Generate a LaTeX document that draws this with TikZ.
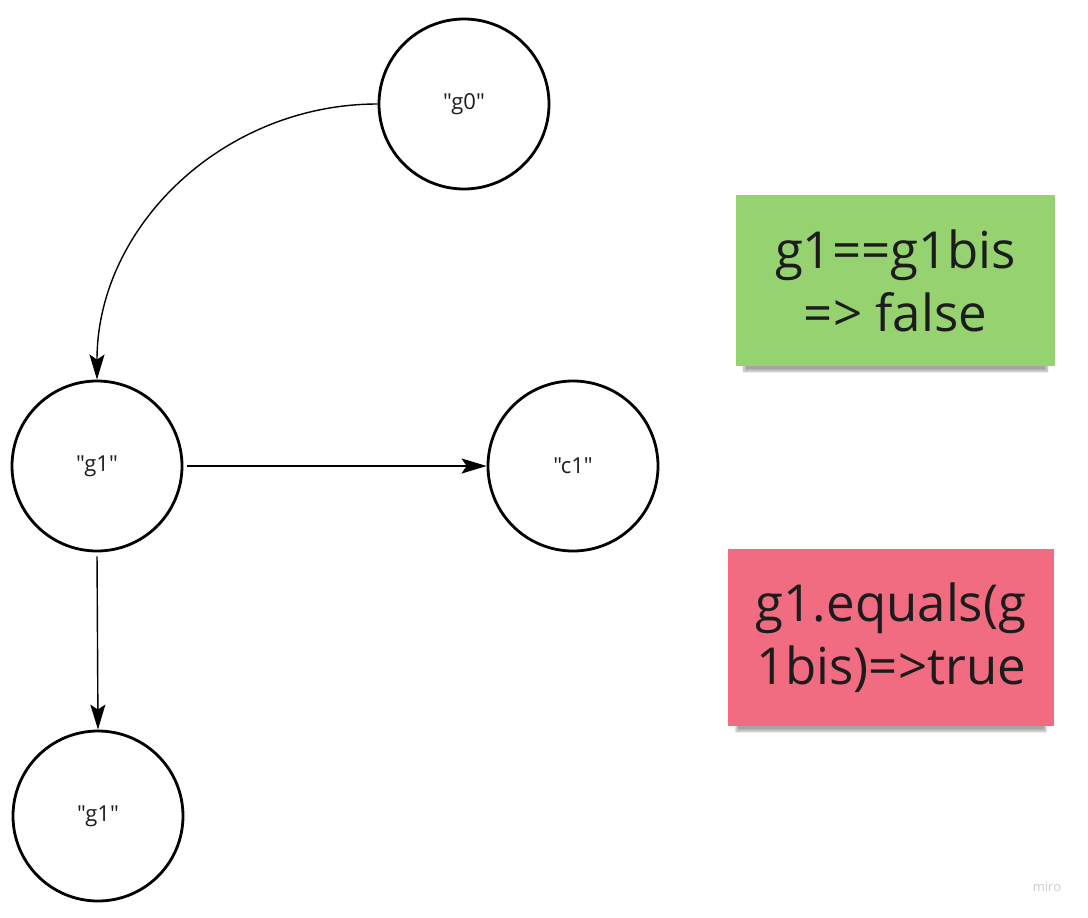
\documentclass[tikz,border=0pt]{standalone}
\usepackage{fontspec}
\setmainfont{Open Sans}[Ligatures=TeXOff]
\usetikzlibrary{arrows.meta,shadows.blur}

\definecolor{notegreen}{RGB}{150,210,112}
\definecolor{notered}{RGB}{241,108,128}
\definecolor{inktext}{RGB}{28,28,28}

\begin{document}
\begin{tikzpicture}[x=1pt, y=-1pt,
   obj/.style={draw, line width=2.8pt, circle, minimum size=170pt, inner sep=0pt,
      text=inktext, font=\fontsize{22}{26}\selectfont},
   ref/.style={-{Stealth[length=25pt, width=15pt, inset=5pt]}, line width=1.4pt},
   sticky/.style={align=center, inner sep=0pt, text=inktext,
      font=\fontsize{51}{63}\selectfont,
      blur shadow={shadow xshift=0pt, shadow yshift=-10pt, shadow blur steps=12,
         shadow opacity=35, shadow scale=0.95}}]
   \useasboundingbox (0,0) rectangle (1088,918);
   % the objects
   \node [obj] (g0) at (464,104) {"g0"};
   \node [obj] (g1) at (97,466) {"g1"};
   \node [obj] (c1) at (573,466) {"c1"};
   \node [obj] (g1b) at (98,816) {"g1"};
   % references
   \draw [ref] (g0.west) to[out=180, in=90] (g1.north);
   \draw [ref, shorten <=4pt] (g1.east) -- (c1.west);
   \draw [ref, shorten <=4pt] (g1.south) -- (g1b.north);
   % sticky notes
   \node [sticky, fill=notegreen, minimum width=319pt, minimum height=171pt]
      (falsenote) at (895.5,280.5) {g1==g1bis\\=> false};
   \node [sticky, fill=notered, minimum width=326pt, minimum height=177pt]
      (truenote) at (891,637.5) {g1.equals(g\\1bis)=>true};
   \node [text=gray!40, font=\fontsize{13}{15}\selectfont] (miro) at (1047,887) {miro};
\end{tikzpicture}
\end{document}
